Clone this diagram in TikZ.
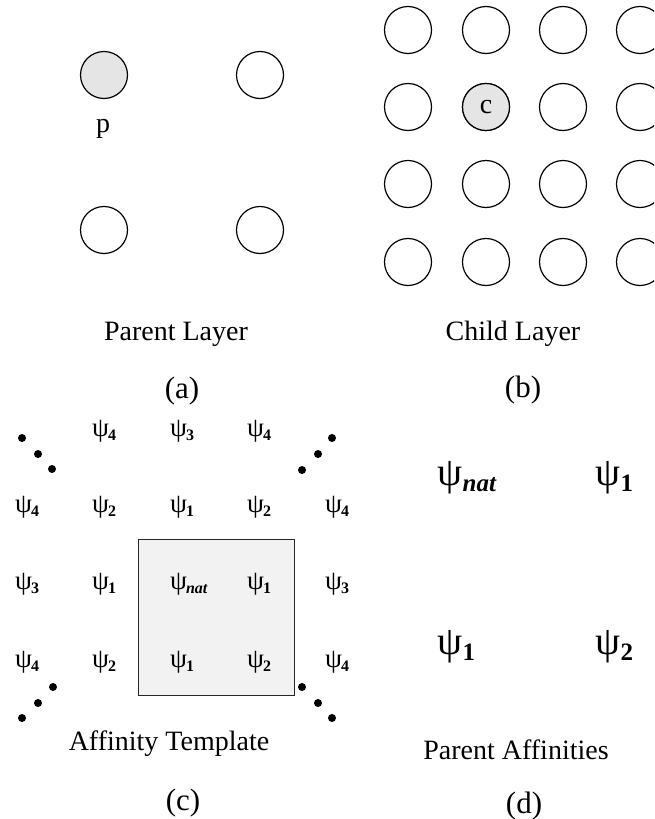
\documentclass[tikz,border=0pt]{standalone}
\usepackage{fontspec}
\setmainfont{Liberation Serif}
\newcommand{\gsub}[1]{ψ\kern-1pt\raisebox{-4pt}{\fontsize{16}{18}\selectfont\bfseries #1}}
\newcommand{\bsub}[1]{ψ\kern0.5pt\raisebox{-6pt}{\fontsize{25}{28}\selectfont\bfseries #1}}
\begin{document}
\begin{tikzpicture}[x=1pt,y=-1pt,
  unit/.style={circle, draw, line width=1.2pt, minimum size=47pt, inner sep=0pt},
  hot/.style={unit, fill=black!10},
  lbl/.style={font=\fontsize{28}{32}\selectfont, anchor=base, inner sep=0pt},
  subcap/.style={font=\fontsize{31}{36}\selectfont, anchor=base, inner sep=0pt},
  aff/.style={font=\fontsize{27}{30}\selectfont, anchor=west, inner sep=0pt},
  bigaff/.style={font=\fontsize{40}{44}\selectfont, anchor=west, inner sep=0pt},
  dotmark/.style={circle, fill=black, inner sep=0pt, minimum size=8pt},
  tmpl/.style={draw=black!85, line width=1pt, fill=black!5}]
\useasboundingbox (0,0) rectangle (654,819);
\clip (0,0) rectangle (654,819);
% (a) parent layer
\node[hot]  (p11) at (104,75) {};
\node[unit] (p12) at (260,75) {};
\node[unit] (p21) at (104,230) {};
\node[unit] (p22) at (260,230) {};
\node[font=\fontsize{28}{32}\selectfont, anchor=base, inner sep=0pt] (plab) at (103,132) {p};
\node[lbl] (pl) at (176,340) {Parent Layer};
\node[subcap] (ca) at (182,398) {(a)};
% (b) child layer
\foreach \r/\y in {1/30,2/107,3/184,4/262}{
  \foreach \c/\x in {1/408,2/486,3/563,4/640}{
    \node[unit] (c\r\c) at (\x,\y) {};
  }
}
\node[hot, font=\fontsize{28}{32}\selectfont] (c22) at (486,107) {c};
\node[lbl] (cl) at (513,340) {Child Layer};
\node[subcap] (cb) at (523,397) {(b)};
% (c) affinity template
\draw[tmpl] (138,539) rectangle (294,695);
\node[aff] (t12) at (92,431) {\gsub{4}};
\node[aff] (t13) at (170,431) {\gsub{3}};
\node[aff] (t14) at (247,431) {\gsub{4}};
\node[aff] (t21) at (15,507) {\gsub{4}};
\node[aff] (t22) at (92,507) {\gsub{2}};
\node[aff] (t23) at (170,507) {\gsub{1}};
\node[aff] (t24) at (247,507) {\gsub{2}};
\node[aff] (t25) at (325,507) {\gsub{4}};
\node[aff] (t31) at (15,584) {\gsub{3}};
\node[aff] (t32) at (92,584) {\gsub{1}};
\node[aff] (t33) at (170,584) {\gsub{\itshape nat}};
\node[aff] (t34) at (247,584) {\gsub{1}};
\node[aff] (t35) at (325,584) {\gsub{3}};
\node[aff] (t41) at (15,662) {\gsub{4}};
\node[aff] (t42) at (92,662) {\gsub{2}};
\node[aff] (t43) at (170,662) {\gsub{1}};
\node[aff] (t44) at (247,662) {\gsub{2}};
\node[aff] (t45) at (325,662) {\gsub{4}};
% ellipsis dots
\node[dotmark] (d1) at (22,438) {};
\node[dotmark] (d2) at (38,454) {};
\node[dotmark] (d3) at (52,469) {};
\node[dotmark] (d4) at (302,470) {};
\node[dotmark] (d5) at (318,454) {};
\node[dotmark] (d6) at (332,438) {};
\node[dotmark] (d7) at (53,687) {};
\node[dotmark] (d8) at (38,703) {};
\node[dotmark] (d9) at (22,718) {};
\node[dotmark] (d10) at (302,687) {};
\node[dotmark] (d11) at (318,703) {};
\node[dotmark] (d12) at (332,718) {};
\node[lbl] (tl) at (169,750) {Affinity Template};
\node[subcap] (cc) at (183,810) {(c)};
% (d) parent affinities
\node[bigaff] (a11) at (437,478) {\bsub{\itshape nat}};
\node[bigaff] (a12) at (595,478) {\bsub{1}};
\node[bigaff] (a21) at (437,647) {\bsub{1}};
\node[bigaff] (a22) at (595,647) {\bsub{2}};
\node[lbl] (al) at (516,759) {Parent Affinities};
\node[subcap] (cd) at (524,813) {(d)};
\end{tikzpicture}
\end{document}
